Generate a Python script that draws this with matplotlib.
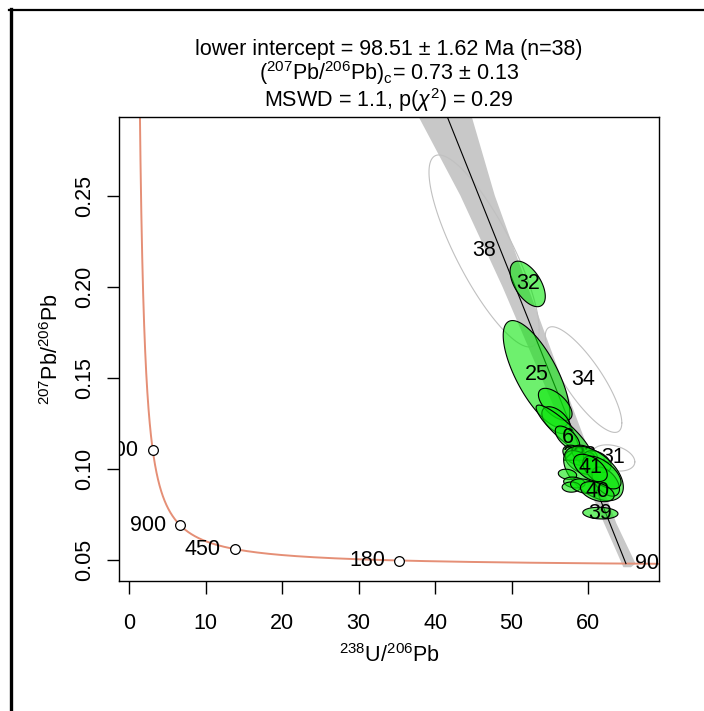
import numpy as np
import matplotlib
matplotlib.use("Agg")
import matplotlib.pyplot as plt
import matplotlib.transforms as mtransforms
from matplotlib.lines import Line2D

plt.rcParams['font.family'] = ['Liberation Sans', 'DejaVu Sans']
plt.rcParams['mathtext.fontset'] = 'custom'
plt.rcParams['mathtext.rm'] = 'Liberation Sans'
plt.rcParams['mathtext.it'] = 'Liberation Sans:italic'
plt.rcParams['mathtext.bf'] = 'Liberation Sans:bold'

FS = 15.5

# decay constants used for the concordia (IsoplotR defaults)
lam238 = 1.55125e-10
lam235 = 9.8485e-10
U238_U235 = 137.818

# concordia age markers (Ma)
conc_ages = [1800, 900, 450, 180, 90]

# results quoted in the title
t_lower = 98.51      # Ma
pb76_common = 0.73

# rejected aliquots: label, 238U/206Pb, 207Pb/206Pb, half x-range, half y-range, rho
rej_ids = ['38', '34', '31']
rej_x = [46.4, 59.4, 63.3]
rej_y = [0.2196, 0.149, 0.106]
rej_hx = [7.2, 5.0, 2.8]
rej_hy = [0.0527, 0.029, 0.0072]
rej_rho = [-0.82, -0.82, -0.3]

# accepted aliquots (empty label = number hidden under later ellipses)
acc_ids = ['32', '25', '', '', '', '6', '22', '23', '', '', '', '', '', '',
           '', '', '', '41', '40', '39']
acc_x = [52.1, 53.25, 55.7, 55.8, 56.8, 57.3, 58.3, 59.6, 59.0, 61.2, 60.7, 57.3,
         58.2, 57.8, 59.5, 62.3, 61.8, 60.3, 61.2, 61.6]
acc_y = [0.2015, 0.152, 0.1354, 0.1267, 0.121, 0.117, 0.1075, 0.1075, 0.1035, 0.104,
         0.0975, 0.097, 0.0925, 0.090, 0.0905, 0.093, 0.098, 0.1005, 0.0875, 0.0757]
acc_hx = [2.3, 4.35, 2.2, 1.85, 3.6, 1.6, 1.6, 1.7, 2.0, 1.8, 3.9, 1.2, 1.4, 1.2,
          1.8, 1.8, 2.5, 2.2, 2.2, 2.3]
acc_hy = [0.0125, 0.0294, 0.0088, 0.0074, 0.014, 0.0065, 0.0055, 0.0055, 0.0065,
          0.006, 0.015, 0.0028, 0.003, 0.0028, 0.004, 0.008, 0.009, 0.0075, 0.0055,
          0.0032]
acc_rho = [-0.55, -0.72, -0.6, -0.5, -0.9, -0.6, -0.4, -0.4, -0.5, -0.4, -0.5, -0.2,
           -0.2, 0.0, -0.3, -0.5, -0.6, -0.5, -0.4, -0.1]

# confidence envelope of the isochron
band_y = [0.046, 0.048, 0.07, 0.10, 0.15, 0.20, 0.25, 0.296]
band_xl = [64.6, 64.4, 62.1, 59.0, 53.9, 48.8, 43.3, 37.5]
band_xr = [65.6, 66.2, 63.7, 61.0, 56.5, 52.1, 47.8, 44.6]


def concordia(t_ma):
    t = np.asarray(t_ma, dtype=float) * 1e6
    e8 = np.exp(lam238 * t) - 1
    e5 = np.exp(lam235 * t) - 1
    return 1 / e8, e5 / e8 / U238_U235


def ellipse(x, y, hx, hy, rho, n=120):
    a = np.linspace(0, 2 * np.pi, n)
    ex = x + hx * np.cos(a)
    ey = y + hy * (rho * np.cos(a) + np.sqrt(1 - rho ** 2) * np.sin(a))
    return ex, ey


fig = plt.figure(figsize=(7.04, 7.11), dpi=100)
ax = fig.add_axes([0.1695, 0.1822, 0.9365 - 0.1695, 0.8354 - 0.1822])

# envelope and isochron
ax.fill(list(band_xl) + list(band_xr[::-1]), list(band_y) + list(band_y[::-1]),
        color='#c8c8c8', lw=0, zorder=1)
x_int, y_int = concordia(t_lower)
ax.plot([0, float(x_int)], [pb76_common, float(y_int)], color='black', lw=0.8, zorder=3)

# concordia
tt = np.linspace(85, 4500, 3000)
cx, cy = concordia(tt)
ax.plot(cx, cy, color='#E58F76', lw=1.4, zorder=2)
mx, my = concordia(conc_ages)
ax.plot(mx, my, 'o', ms=7, mfc='white', mec='black', mew=0.9, zorder=4)
lab_tr = mtransforms.offset_copy(ax.transData, fig=fig, x=-14, y=0, units='dots')
for age, px_, py_ in zip(conc_ages, mx, my):
    ax.text(px_, py_, str(age), transform=lab_tr, ha='right', va='center',
            fontsize=FS, clip_on=True, zorder=4)

# rejected aliquots
for i in range(len(rej_ids)):
    ex, ey = ellipse(rej_x[i], rej_y[i], rej_hx[i], rej_hy[i], rej_rho[i])
    ax.plot(ex, ey, color='#c0c0c0', lw=0.8, zorder=2)
    ax.text(rej_x[i], rej_y[i], rej_ids[i], ha='center', va='center',
            fontsize=FS, zorder=2.5)

# accepted aliquots, each label drawn right after its ellipse
for i in range(len(acc_ids)):
    z = 5 + i
    ex, ey = ellipse(acc_x[i], acc_y[i], acc_hx[i], acc_hy[i], acc_rho[i])
    ax.fill(ex, ey, facecolor=(0.05, 0.9, 0.05, 0.6), edgecolor='black', lw=0.8, zorder=z)
    if acc_ids[i]:
        ax.text(acc_x[i], acc_y[i], acc_ids[i], ha='center', va='center',
                fontsize=FS, zorder=z + 0.5)

ax.set_xlim(-1.27, 69.3)
ax.set_ylim(0.0382, 0.2931)
ax.set_xticks([0, 10, 20, 30, 40, 50, 60])
ax.set_yticks([0.05, 0.10, 0.15, 0.20, 0.25])
ax.set_yticklabels(['0.05', '0.10', '0.15', '0.20', '0.25'], rotation=90, va='center')
ax.tick_params(direction='out', length=9, width=1, labelsize=FS)
ax.tick_params(axis='x', pad=14)
ax.tick_params(axis='y', pad=8.5)
for s in ax.spines.values():
    s.set_linewidth(1)
ax.set_xlabel(r'${}^{238}\mathrm{U}/{}^{206}\mathrm{Pb}$', fontsize=FS, labelpad=7)
ax.set_ylabel(r'${}^{207}\mathrm{Pb}/{}^{206}\mathrm{Pb}$', fontsize=FS, labelpad=8)

# three-line title
xc = 389 / 704
fig.text(xc, 1 - 55.4 / 711, 'lower intercept = 98.51 ± 1.62 Ma (n=38)',
         ha='center', va='baseline', fontsize=FS)
fig.text(xc, 1 - 80.4 / 711,
         r'$({}^{207}\mathrm{Pb}/{}^{206}\mathrm{Pb})_{\mathrm{c}}$= 0.73 ± 0.13',
         ha='center', va='baseline', fontsize=FS)
fig.text(xc, 1 - 106.7 / 711, r'MSWD = 1.1, p($\chi^{2}$) = 0.29',
         ha='center', va='baseline', fontsize=FS)

# screenshot frame on left and top
fig.add_artist(Line2D([11 / 704, 11 / 704], [0, 1 - 9 / 711], transform=fig.transFigure,
                      color='black', lw=2.4))
fig.add_artist(Line2D([9 / 704, 1], [1 - 10 / 711, 1 - 10 / 711], transform=fig.transFigure,
                      color='black', lw=1.6))

fig.savefig('out.png', dpi=100)
